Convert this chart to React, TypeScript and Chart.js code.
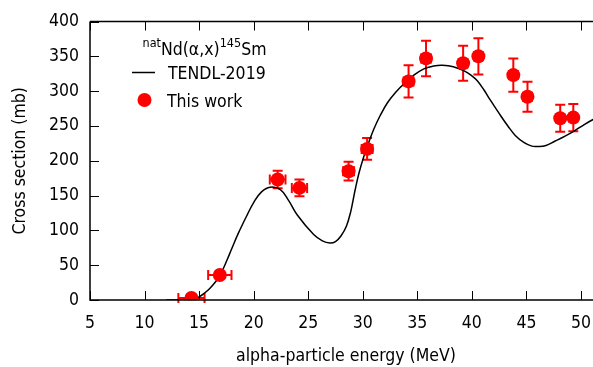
import React, { useEffect, useRef } from "react";
import { Chart, registerables } from "chart.js";

Chart.register(...registerables);

// TENDL-2019 evaluated curve (energy MeV, cross section mb)
const curveE = [12.0, 14.3, 15.0, 15.5, 16.0, 16.6, 17.0, 17.55, 18.0, 18.6, 19.4, 20.0, 20.7, 21.5, 22.45, 23.2, 24.0, 25.5, 26.3, 27.0, 27.5, 28.0, 28.5, 28.9, 29.3, 29.65, 30.1, 30.5, 31.0, 31.6, 32.25, 33.0, 33.8, 34.6, 35.6, 36.5, 37.3, 38.3, 39.3, 40.0, 40.5, 41.1, 41.7, 42.5, 43.3, 44.0, 44.8, 45.5, 46.0, 46.8, 47.6, 48.5, 49.4, 50.3, 51.2, 52.0];
const curveXS = [0, 0, 4.5, 10, 17, 28, 38, 57, 74, 96, 122, 140, 155, 162, 158.6, 143, 122, 94, 85, 82, 84, 92, 106, 127, 158, 182, 206, 224, 245, 265, 283, 298, 311, 322, 332, 336, 337, 335, 329, 322, 315, 302, 287, 268, 250, 236, 226, 221, 220.5, 222, 228, 235, 243, 252, 260, 266];

// This work (measured)
const expE = [14.3, 16.9, 22.2, 24.2, 28.7, 30.4, 34.2, 35.8, 39.2, 40.6, 43.8, 45.1, 48.1, 49.3];
const expXS = [3, 36, 173, 161, 185, 217, 314, 347, 340, 350, 323, 292, 261, 262];
const expXSerr = [2, 3, 12.5, 12, 13.5, 15.5, 23, 25.5, 25, 26, 24, 21.5, 19.5, 19.5];
const expEerr = [1.2, 1.07, 0.72, 0.7, 0.5, 0.5, 0.45, 0.45, 0.4, 0.4, 0.4, 0.4, 0.35, 0.35];

const xTicks = [5, 10, 15, 20, 25, 30, 35, 40, 45, 50];
const yTicks = [0, 50, 100, 150, 200, 250, 300, 350, 400];

const FONT = "'DejaVu Sans Condensed', 'DejaVu Sans', Verdana, sans-serif";
const FS = 17.5;
const RED = "#ff0000";
const CW = 609;

const framePlugin = {
  id: "frame",
  beforeDatasetsDraw(chart: any) {
    const { ctx } = chart;
    const xs = chart.scales.x;
    const ys = chart.scales.y;
    ctx.save();
    ctx.strokeStyle = RED;
    ctx.lineWidth = 2;
    const cap = 5;
    for (let i = 0; i < expE.length; i++) {
      const px = xs.getPixelForValue(expE[i]);
      const py = ys.getPixelForValue(expXS[i]);
      const y1 = ys.getPixelForValue(expXS[i] + expXSerr[i]);
      const y2 = ys.getPixelForValue(Math.max(0, expXS[i] - expXSerr[i]));
      const x1 = xs.getPixelForValue(expE[i] - expEerr[i]);
      const x2 = xs.getPixelForValue(expE[i] + expEerr[i]);
      ctx.beginPath();
      ctx.moveTo(px, y1);
      ctx.lineTo(px, y2);
      ctx.moveTo(px - cap, y1);
      ctx.lineTo(px + cap, y1);
      ctx.moveTo(px - cap, y2);
      ctx.lineTo(px + cap, y2);
      ctx.moveTo(x1, py);
      ctx.lineTo(x2, py);
      ctx.moveTo(x1, py - cap);
      ctx.lineTo(x1, py + cap);
      ctx.moveTo(x2, py - cap);
      ctx.lineTo(x2, py + cap);
      ctx.stroke();
    }
    ctx.restore();
  },
  afterDraw(chart: any) {
    const { ctx, chartArea } = chart;
    const { left, right, top, bottom } = chartArea;
    const xs = chart.scales.x;
    const ys = chart.scales.y;
    ctx.save();
    ctx.strokeStyle = "#000";
    ctx.lineWidth = 1.5;
    ctx.beginPath();
    ctx.moveTo(left, top);
    ctx.lineTo(left, bottom);
    ctx.lineTo(right, bottom);
    ctx.moveTo(left, top);
    ctx.lineTo(right, top);
    ctx.lineTo(right, bottom);
    ctx.stroke();
    ctx.lineWidth = 1;
    const tl = 9;
    ctx.beginPath();
    for (const t of xTicks) {
      const p = Math.round(xs.getPixelForValue(t)) + 0.5;
      ctx.moveTo(p, bottom);
      ctx.lineTo(p, bottom - tl);
      ctx.moveTo(p, top);
      ctx.lineTo(p, top + tl);
    }
    for (const t of yTicks) {
      const p = Math.round(ys.getPixelForValue(t)) + 0.5;
      ctx.moveTo(left, p);
      ctx.lineTo(left + tl, p);
      ctx.moveTo(right, p);
      ctx.lineTo(right - tl, p);
    }
    ctx.stroke();

    // legend
    ctx.fillStyle = "#000";
    ctx.textBaseline = "alphabetic";
    ctx.textAlign = "left";
    const big = FS + "px " + FONT;
    const small = "12.5px " + FONT;
    let x = 142.5;
    const base = 55;
    const parts: [string, boolean][] = [["nat", true], ["Nd(α,x)", false], ["145", true], ["Sm", false]];
    for (const [txt, sup] of parts) {
      ctx.font = sup ? small : big;
      ctx.fillText(txt, x, sup ? base - 8 : base);
      x += ctx.measureText(txt).width;
    }
    ctx.font = big;
    ctx.fillText("TENDL-2019", 168, 78.5);
    ctx.fillText("This work", 167, 106.5);
    ctx.lineWidth = 1.5;
    ctx.beginPath();
    ctx.moveTo(132, 72.5);
    ctx.lineTo(155, 72.5);
    ctx.stroke();
    ctx.fillStyle = RED;
    ctx.beginPath();
    ctx.arc(144.5, 100, 7, 0, Math.PI * 2);
    ctx.fill();
    ctx.restore();
  },
};

export default function App() {
  const ref = useRef<HTMLCanvasElement>(null);
  useEffect(() => {
    if (!ref.current) return;
    const chart = new Chart(ref.current, {
      type: "scatter",
      data: {
        datasets: [
          {
            label: "This work",
            data: expE.map((e, i) => ({ x: e, y: expXS[i] })),
            pointRadius: 7,
            pointBackgroundColor: RED,
            pointBorderColor: RED,
            pointBorderWidth: 0,
            showLine: false,
          },
          {
            label: "TENDL-2019",
            data: curveE.map((e, i) => ({ x: e, y: curveXS[i] })),
            showLine: true,
            borderColor: "#000",
            borderWidth: 1.5,
            pointRadius: 0,
            tension: 0.4,
          },
        ],
      },
      options: {
        animation: false,
        responsive: false,
        maintainAspectRatio: false,
        layout: { padding: { top: 17, right: 0, left: 0, bottom: 0 } },
        plugins: { legend: { display: false }, tooltip: { enabled: false } },
        scales: {
          x: {
            type: "linear",
            min: 5,
            max: 51.93,
            afterFit: (s: any) => { s.height = 67; },
            afterBuildTicks: (s: any) => { s.ticks = xTicks.map((v) => ({ value: v })); },
            grid: { display: false, drawTicks: false },
            border: { display: false },
            ticks: { color: "#000", font: { family: FONT, size: FS }, padding: 13, maxRotation: 0 },
            title: { display: true, text: "alpha-particle energy (MeV)", color: "#000", font: { family: FONT, size: FS }, padding: { top: 4, bottom: 0 } },
          },
          y: {
            type: "linear",
            min: 0,
            max: 400,
            afterFit: (s: any) => { s.width = 90; },
            afterBuildTicks: (s: any) => { s.ticks = yTicks.map((v) => ({ value: v })); },
            grid: { display: false, drawTicks: false },
            border: { display: false },
            ticks: { color: "#000", font: { family: FONT, size: FS }, padding: 11 },
            title: { display: true, text: "Cross section (mb)", color: "#000", font: { family: FONT, size: FS }, padding: { top: 10, bottom: 4 } },
          },
        },
      },
      plugins: [framePlugin],
    });
    return () => chart.destroy();
  }, []);
  return (
    <div style={{ position: "fixed", left: 0, top: 0, width: 593, height: 367, background: "#fff", overflow: "hidden" }}>
      <div style={{ position: "absolute", left: 0, top: 0, width: CW, height: 367 }}>
        <canvas ref={ref} width={CW} height={367} style={{ width: CW, height: 367, display: "block" }} />
      </div>
    </div>
  );
}
